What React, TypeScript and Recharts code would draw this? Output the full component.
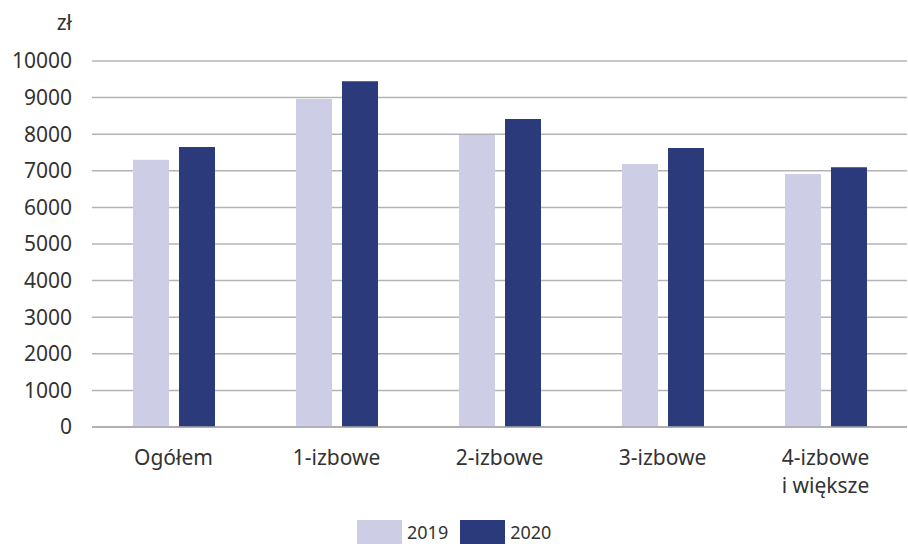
import React from 'react'
import { BarChart, Bar, XAxis, YAxis, CartesianGrid } from 'recharts'

const categories = ['Ogółem', '1-izbowe', '2-izbowe', '3-izbowe', '4-izbowe\ni większe']
const values2019 = [7300, 8960, 7980, 7185, 6910]
const values2020 = [7650, 9450, 8415, 7620, 7100]
const yTicks = [0, 1000, 2000, 3000, 4000, 5000, 6000, 7000, 8000, 9000, 10000]

const series = [
  { key: 'y2019', name: '2019', color: '#cdcde6', values: values2019 },
  { key: 'y2020', name: '2020', color: '#2b3a7b', values: values2020 },
]

const data = categories.map((c, i) => ({
  category: c,
  y2019: values2019[i],
  y2020: values2020[i],
}))

const FONT = '"Noto Sans", "Open Sans", sans-serif'
const TEXT = '#333333'

function CategoryTick(props: any) {
  const { x, y, payload } = props
  const lines = String(payload.value).split('\n')
  return (
    <text x={x} y={y} textAnchor="middle" fill={TEXT} fontSize={21} fontFamily={FONT}>
      {lines.map((l, i) => (
        <tspan key={i} x={x} dy={i === 0 ? 30 : 28}>
          {l}
        </tspan>
      ))}
    </text>
  )
}

export default function App() {
  return (
    <div style={{ position: 'absolute', left: 0, top: 0, width: 908, height: 544, background: '#fff', fontFamily: FONT }}>
      <svg style={{ position: 'absolute', left: 0, top: 0 }} width={100} height={40}>
        <text x={72} y={30} textAnchor="end" fill={TEXT} fontSize={21} fontFamily={FONT}>
          zł
        </text>
      </svg>
      <BarChart
        width={908}
        height={544}
        data={data}
        margin={{ top: 61, right: 1, left: 0, bottom: 57 }}
        barSize={36}
        barGap={10}
      >
        <CartesianGrid vertical={false} stroke="#b4b4b4" strokeWidth={1.5} />
        <XAxis
          dataKey="category"
          tick={<CategoryTick />}
          tickLine={false}
          axisLine={{ stroke: '#a8a8a8', strokeWidth: 1.5 }}
          height={60}
          interval={0}
        />
        <YAxis
          domain={[0, 10000]}
          ticks={yTicks}
          width={92}
          tickLine={false}
          axisLine={false}
          tickMargin={14}
          tick={{ fill: TEXT, fontSize: 21, fontFamily: FONT }}
          interval={0}
        />
        {series.map((s) => (
          <Bar key={s.key} dataKey={s.key} name={s.name} fill={s.color} isAnimationActive={false} />
        ))}
      </BarChart>
      <div style={{ position: 'absolute', left: 357, top: 520, display: 'flex', alignItems: 'center', fontSize: 18, color: TEXT }}>
        {series.map((s) => (
          <div key={s.key} style={{ display: 'flex', alignItems: 'center', marginRight: 12 }}>
            <div style={{ width: 45, height: 24, background: s.color, marginRight: 5 }} />
            <span>{s.name}</span>
          </div>
        ))}
      </div>
    </div>
  )
}
